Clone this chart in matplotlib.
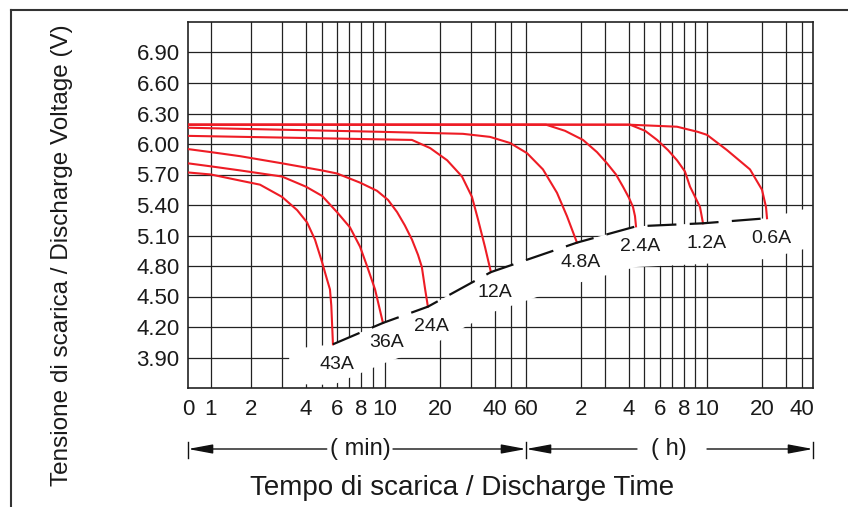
import numpy as np
import matplotlib.pyplot as plt
from matplotlib.lines import Line2D
from matplotlib.transforms import blended_transform_factory

plt.rcParams['font.family'] = ['Liberation Sans', 'DejaVu Sans']

# discharge curves: time in minutes, voltage in V
t_43a = [0, 1, 1.73, 2.29, 3.0, 3.63, 4.06, 4.56, 5.0, 5.33, 5.53, 5.62, 5.73]
v_43a = [5.72, 5.70, 5.64, 5.60, 5.48, 5.35, 5.23, 5.06, 4.84, 4.67, 4.57, 4.41, 4.03]

t_36a = [0, 1, 1.73, 3.0, 4.0, 5.0, 6.0, 7.08, 7.92, 8.5, 9.17, 9.83]
v_36a = [5.81, 5.78, 5.74, 5.68, 5.58, 5.49, 5.33, 5.18, 4.99, 4.80, 4.57, 4.24]

t_24a = [0, 1, 1.73, 3.0, 5.0, 6.0, 7.92, 9.33, 10.55, 12.2, 13.6, 14.9, 16.0, 16.7, 17.3, 17.8]
v_24a = [5.95, 5.92, 5.88, 5.81, 5.74, 5.71, 5.62, 5.54, 5.45, 5.33, 5.20, 5.06, 4.91, 4.79, 4.57, 4.40]

t_12a = [0, 3.75, 14.9, 18.2, 22.3, 27.1, 30.4, 32.9, 35.8, 38.3]
v_12a = [6.08, 6.06, 6.04, 5.96, 5.84, 5.68, 5.48, 5.26, 4.99, 4.74]

t_4a8 = [0, 9.6, 27.4, 37.9, 49.4, 61.1, 78.5, 93.8, 104.7, 115.6]
v_4a8 = [6.16, 6.12, 6.10, 6.07, 6.01, 5.91, 5.75, 5.52, 5.29, 5.03]

t_2a4 = [0, 81.8, 102.5, 125, 160, 185, 207.5, 225, 240, 256, 264, 268]
v_2a4 = [6.19, 6.19, 6.13, 6.04, 5.92, 5.81, 5.70, 5.58, 5.47, 5.38, 5.29, 5.19]

t_1a2 = [0, 244, 304, 349, 400, 445, 485, 513, 535, 565, 580]
v_1a2 = [6.19, 6.19, 6.13, 6.04, 5.94, 5.84, 5.73, 5.58, 5.50, 5.38, 5.22]

t_0a6 = [0, 240, 445, 553, 600, 818, 1069, 1200, 1300, 1325]
v_0a6 = [6.19, 6.19, 6.17, 6.12, 6.09, 5.94, 5.75, 5.55, 5.38, 5.27]

curves = [(t_43a, v_43a), (t_36a, v_36a), (t_24a, v_24a), (t_12a, v_12a),
          (t_4a8, v_4a8), (t_2a4, v_2a4), (t_1a2, v_1a2), (t_0a6, v_0a6)]
currents = ['43A', '36A', '24A', '12A', '4.8A', '2.4A', '1.2A', '0.6A']

y_ticks = [3.90, 4.20, 4.50, 4.80, 5.10, 5.40, 5.70, 6.00, 6.30, 6.60, 6.90]
x_ticks = [0, 1, 2, 4, 6, 8, 10, 20, 40, 60, 120, 240, 360, 480, 600, 1200, 2400]
x_ticklabels = ['0', '1', '2', '4', '6', '8', '10', '20', '40', '60',
                '2', '4', '6', '8', '10', '20', '40']

# printed time grid is uneven: minutes -> position along the axis
grid_min = [0, 1, 2, 3, 4, 5, 6, 7, 8, 9, 10, 20, 30, 40, 50, 60,
            120, 180, 240, 300, 360, 420, 480, 540, 600, 1200, 1800, 2400, 3000]
grid_pos = [0, 23, 63, 94, 118, 134, 149, 161, 173, 185, 197, 252, 283, 307, 323, 338,
            393, 417, 441, 456, 472, 484, 496, 507, 519, 574, 598, 614, 625]


def fwd(t):
    return np.interp(t, grid_min, grid_pos)


def inv(p):
    return np.interp(p, grid_pos, grid_min)


fig = plt.figure(figsize=(8.48, 5.07), dpi=100)
ax = fig.add_axes([188 / 848, 1 - 388 / 507, 625 / 848, 366 / 507])
ax.set_xscale('function', functions=(fwd, inv))
ax.set_xlim(0, 3000)
ax.set_ylim(3.60, 7.20)

grid_kw = dict(color='#222222', lw=0.9, zorder=1)
for t in grid_min[1:-1]:
    ax.axvline(t, **grid_kw)
for v in y_ticks:
    ax.axhline(v, **grid_kw)

# white band under the end-of-discharge line
ends_t = [c[0][-1] for c in curves]
ends_v = [c[1][-1] for c in curves]
top_t = [3.3] + ends_t + [3000]
top_v = [3.98] + ends_v + [5.38]
bot_t = top_t[::-1]
bot_v = [4.99] + [v - 0.40 for v in ends_v[::-1]] + [3.64]
ax.fill(top_t + bot_t, top_v + bot_v, color='white', zorder=2, lw=0)

for (t, v), name in zip(curves, currents):
    ax.plot(t, v, color='#ee1c25', lw=1.5, zorder=3, solid_joinstyle='round')
    ax.annotate(name, (t[-1], v[-1]), xytext=(4, -20), textcoords='offset pixels',
                ha='center', va='center', fontsize=14, color='#1a1a1a', zorder=5)

ax.plot(ends_t, ends_v, color='#111111', lw=1.6, ls=(0, (13, 6)), zorder=4)

for s in ax.spines.values():
    s.set_color('#222222')
    s.set_linewidth(1.2)
ax.set_yticks(y_ticks)
ax.set_yticklabels([f'{v:.2f}' for v in y_ticks])
ax.set_xticks(x_ticks)
ax.set_xticklabels(x_ticklabels)
ax.xaxis.set_minor_locator(plt.NullLocator())
ax.tick_params(axis='both', length=0, labelsize=16, colors='#1a1a1a')
ax.tick_params(axis='x', pad=8)
ax.tick_params(axis='y', pad=6)

# min / h arrows under the axis
tr = blended_transform_factory(ax.transAxes, fig.transFigure)
ya = 1 - 449 / 507
arr = dict(arrowstyle='-|>,head_length=0.75,head_width=0.14', color='#111111', lw=1,
           shrinkA=0, shrinkB=0, mutation_scale=20)
for x0, x1 in [(0.222, 0.0), (0.328, 0.5408), (0.7184, 0.5408), (0.8304, 1.0)]:
    ax.annotate('', xy=(x1, ya), xytext=(x0, ya), xycoords=tr, textcoords=tr,
                arrowprops=arr, annotation_clip=False)
for xb in [0.0, 0.5408, 1.0]:
    ax.add_artist(Line2D([xb, xb], [1 - 442 / 507, 1 - 458 / 507], color='#111111',
                         lw=1, transform=tr, clip_on=False))
ax.text(0.275, ya, '( min)', transform=tr, ha='center', va='center', fontsize=17, color='#1a1a1a')
ax.text(0.7696, ya, '( h)', transform=tr, ha='center', va='center', fontsize=17, color='#1a1a1a')

fig.text(462 / 848, 1 - 488 / 507, 'Tempo di scarica / Discharge Time',
         ha='center', va='center', fontsize=20, color='#1a1a1a')
fig.text(62 / 848, 1 - 255 / 507, 'Tensione di scarica / Discharge Voltage (V)',
         ha='center', va='center', rotation=90, fontsize=17.5, color='#1a1a1a')

# outer frame (top and left only)
fig.add_artist(Line2D([11 / 848, 1], [1 - 10 / 507] * 2, color='#333333', lw=1.5,
                      transform=fig.transFigure))
fig.add_artist(Line2D([11 / 848] * 2, [0, 1 - 10 / 507], color='#333333', lw=1.5,
                      transform=fig.transFigure))

fig.savefig('out.png', dpi=100)
